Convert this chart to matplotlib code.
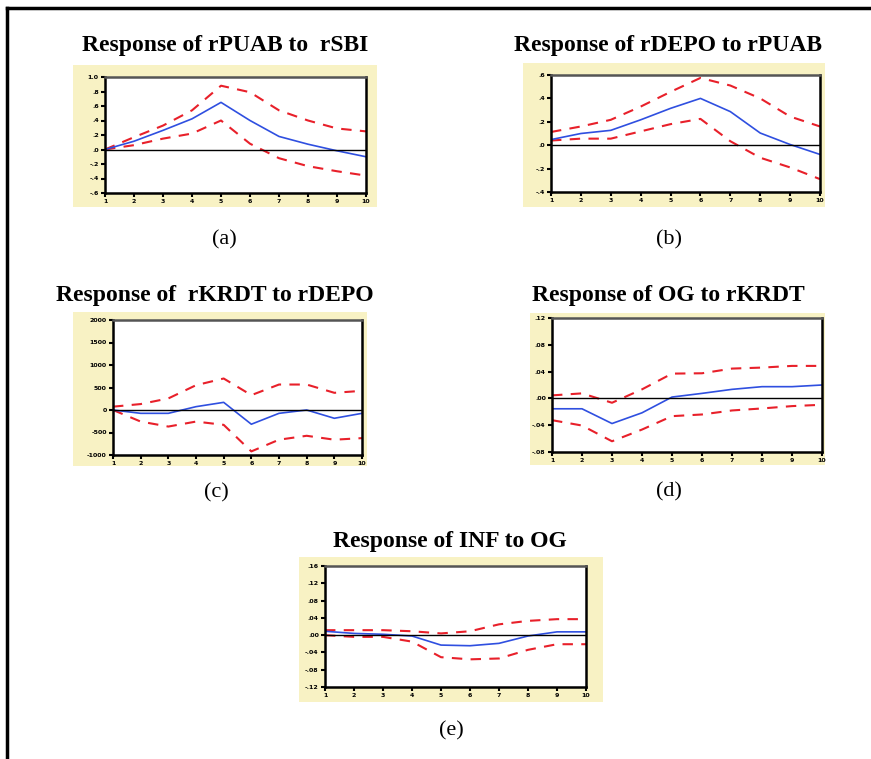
import matplotlib
matplotlib.use("Agg")
import matplotlib.pyplot as plt
from matplotlib.lines import Line2D

W, H = 871, 759
periods = [1, 2, 3, 4, 5, 6, 7, 8, 9, 10]
period_labels = ["1", "2", "3", "4", "5", "6", "7", "8", "9", "10"]

# (a) Response of rPUAB to rSBI
a_resp = [0.0, 0.114, 0.264, 0.423, 0.65, 0.40, 0.18, 0.073, -0.018, -0.10]
a_up = [0.0, 0.17, 0.33, 0.54, 0.88, 0.79, 0.54, 0.40, 0.29, 0.25]
a_lo = [0.0, 0.06, 0.15, 0.22, 0.40, 0.08, -0.12, -0.23, -0.30, -0.36]
a_ticks = [-0.6, -0.4, -0.2, 0.0, 0.2, 0.4, 0.6, 0.8, 1.0]
a_ticklabels = ["-.6", "-.4", "-.2", ".0", ".2", ".4", ".6", ".8", "1.0"]

# (b) Response of rDEPO to rPUAB
b_resp = [0.048, 0.10, 0.127, 0.217, 0.315, 0.40, 0.287, 0.104, 0.006, -0.079]
b_up = [0.113, 0.16, 0.217, 0.33, 0.456, 0.575, 0.51, 0.40, 0.245, 0.16]
b_lo = [0.04, 0.056, 0.056, 0.118, 0.18, 0.225, 0.034, -0.107, -0.19, -0.29]
b_ticks = [-0.4, -0.2, 0.0, 0.2, 0.4, 0.6]
b_ticklabels = ["-.4", "-.2", ".0", ".2", ".4", ".6"]

# (c) Response of rKRDT to rDEPO
c_resp = [0, -74, -74, 74, 170, -316, -74, 0, -184, -74]
c_up = [74, 132, 257, 551, 700, 330, 566, 566, 382, 426]
c_lo = [0, -257, -368, -257, -330, -920, -660, -573, -660, -625]
c_ticks = [-1000, -500, 0, 500, 1000, 1500, 2000]
c_ticklabels = ["-1000", "-500", "0", "500", "1000", "1500", "2000"]

# (d) Response of OG to rKRDT
d_resp = [-0.0155, -0.0155, -0.0375, -0.0215, 0.002, 0.0075, 0.0135, 0.0175, 0.0175, 0.02]
d_up = [0.0045, 0.0075, -0.0065, 0.0135, 0.037, 0.0375, 0.0445, 0.046, 0.0485, 0.0485]
d_lo = [-0.0325, -0.0405, -0.064, -0.0465, -0.0265, -0.024, -0.018, -0.015, -0.0115, -0.0095]
d_ticks = [-0.08, -0.04, 0.0, 0.04, 0.08, 0.12]
d_ticklabels = ["-.08", "-.04", ".00", ".04", ".08", ".12"]

# (e) Response of INF to OG
e_resp = [0.009, 0.004, 0.002, -0.002, -0.023, -0.0245, -0.019, -0.002, 0.0076, 0.0076]
e_up = [0.0115, 0.0115, 0.0115, 0.009, 0.004, 0.009, 0.025, 0.033, 0.037, 0.037]
e_lo = [0.0, -0.004, -0.004, -0.015, -0.051, -0.056, -0.054, -0.034, -0.021, -0.021]
e_ticks = [-0.12, -0.08, -0.04, 0.0, 0.04, 0.08, 0.12, 0.16]
e_ticklabels = ["-.12", "-.08", "-.04", ".00", ".04", ".08", ".12", ".16"]

titles = ["Response of rPUAB to  rSBI", "Response of rDEPO to rPUAB",
          "Response of  rKRDT to rDEPO", "Response of OG to rKRDT",
          "Response of INF to OG"]
letters = ["(a)", "(b)", "(c)", "(d)", "(e)"]

fig = plt.figure(figsize=(W / 100, H / 100), dpi=100)
fig.patch.set_facecolor("white")

def rect(l, t, r, b):
    return [l / W, 1 - b / H, (r - l) / W, (b - t) / H]

panels = [
    ((73, 65, 377, 207), (105, 77, 366, 193), (225, 45), (224, 240),
     a_resp, a_up, a_lo, a_ticks, a_ticklabels),
    ((523, 63, 825, 207), (551, 75, 820, 192), (668, 45), (669, 240),
     b_resp, b_up, b_lo, b_ticks, b_ticklabels),
    ((73, 312, 367, 466), (113, 320, 362, 455), (215, 296), (216, 493),
     c_resp, c_up, c_lo, c_ticks, c_ticklabels),
    ((530, 313, 825, 465), (552, 318, 822, 452), (668, 296), (669, 492),
     d_resp, d_up, d_lo, d_ticks, d_ticklabels),
    ((299, 557, 603, 702), (325, 566, 586, 687), (450, 541), (451, 731),
     e_resp, e_up, e_lo, e_ticks, e_ticklabels),
]

for i, (ybox, pbox, tpos, lpos, resp, up, lo, ticks, tlabels) in enumerate(panels):
    bg = fig.add_axes(rect(*ybox), zorder=0)
    bg.set_facecolor("#f8f2c4")
    bg.set_xticks([])
    bg.set_yticks([])
    for s in bg.spines.values():
        s.set_visible(False)

    ax = fig.add_axes(rect(*pbox), zorder=2)
    ax.set_facecolor("white")
    ax.plot(periods, up, color="#e8202a", lw=1.5, dashes=(5, 4))
    ax.plot(periods, lo, color="#e8202a", lw=1.5, dashes=(5, 4))
    ax.plot(periods, resp, color="#2f4fe0", lw=1.2)
    ax.axhline(0, color="black", lw=1.0)
    ax.set_xlim(1, 10)
    ax.set_ylim(ticks[0], ticks[-1])
    ax.set_xticks(periods)
    ax.set_xticklabels(period_labels)
    ax.set_yticks(ticks)
    ax.set_yticklabels(tlabels)
    ax.tick_params(direction="out", length=3, width=1.5, labelsize=4.5, pad=1.5,
                   colors="black")
    for lab in ax.get_xticklabels() + ax.get_yticklabels():
        lab.set_fontweight("bold")
    for s in ["left", "bottom", "right"]:
        ax.spines[s].set_linewidth(1.8)
        ax.spines[s].set_color("black")
    ax.spines["top"].set_linewidth(1.8)
    ax.spines["top"].set_color("#555555")
    fig.text(tpos[0] / W, 1 - tpos[1] / H, titles[i], ha="center", va="center",
             fontsize=17, fontweight="bold", family="Liberation Serif")
    fig.text(lpos[0] / W, 1 - lpos[1] / H, letters[i], ha="center", va="center",
             fontsize=16, family="Liberation Serif")

# outer frame (left and top edges)
fig.add_artist(Line2D([7 / W, 7 / W], [0, 1 - 8 / H], transform=fig.transFigure,
                      color="black", lw=2.5))
fig.add_artist(Line2D([7 / W, 1], [1 - 8 / H, 1 - 8 / H], transform=fig.transFigure,
                      color="black", lw=2.5))

fig.savefig("out.png", dpi=100)
